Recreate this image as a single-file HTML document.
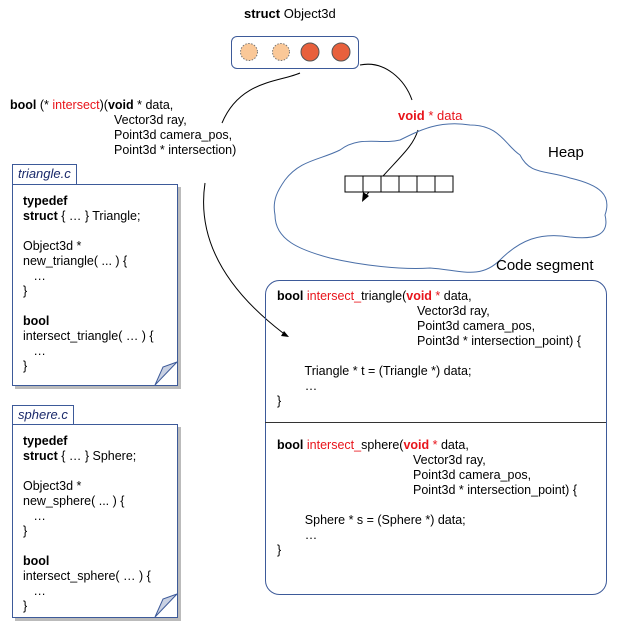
<!DOCTYPE html>
<html><head><style>
body{margin:0;width:644px;height:644px;background:#fff;position:relative;font-family:"Liberation Sans",sans-serif;font-size:12.5px;color:#000;overflow:hidden}
.a{position:absolute;white-space:pre;line-height:15px}
.r{color:#e8141b}
b{font-weight:bold}
.tab{position:absolute;border:1px solid #3d5a99;border-bottom:none;background:#fff;font-style:italic;color:#1b2a6b;font-size:13px;padding:1px 5px;height:17px}
.doc{position:absolute;border:1px solid #3d5a99;background:#fff;box-shadow:3px 3px 0 #bbb}
</style></head><body>
<div class="a" style="left:244px;top:6px;font-size:13px"><b>struct</b> Object3d</div>
<div style="position:absolute;left:231px;top:36px;width:126px;height:31px;border:1px solid #3d5a99;border-radius:6px"></div>
<svg width="644" height="644" style="position:absolute;left:0;top:0">
<circle cx="249" cy="52" r="8.5" fill="#fac898" stroke="#777" stroke-dasharray="1.5 1.5"/>
<circle cx="281" cy="52" r="8.5" fill="#fac898" stroke="#777" stroke-dasharray="1.5 1.5"/>
<circle cx="310" cy="52" r="9" fill="#e8603c" stroke="#555"/>
<circle cx="341" cy="52" r="9" fill="#e8603c" stroke="#555"/>
<path d="M300 73 C280 82 240 80 222 123" fill="none" stroke="#000"/>
<path d="M360 65 C385 60 405 80 412 100" fill="none" stroke="#000"/>
<path d="M418 130 C412 150 395 160 364 198" fill="none" stroke="#000"/>
<path d="M362 202 l1 -10 l6 4 z" fill="#000"/>
<path d="M205 183 C195 250 240 300 283 333" fill="none" stroke="#000"/>
<path d="M289 337 l-8 -1 l3 -5 z" fill="#000"/>
<path d="M285 180 C300 160 320 160 340 150 C360 135 380 145 400 140 C420 130 440 120 470 125 C500 125 505 145 520 155 C530 175 545 170 570 178 C600 185 612 195 605 215 C610 235 595 240 570 237 C540 232 520 240 500 260 C480 280 460 270 430 268 C400 270 360 265 330 258 C300 250 275 240 275 215 C272 200 278 190 285 180 Z" fill="none" stroke="#4a6fa8"/>
<g fill="#fff" stroke="#000"><rect x="345" y="176" width="18" height="16"/><rect x="363" y="176" width="18" height="16"/><rect x="381" y="176" width="18" height="16"/><rect x="399" y="176" width="18" height="16"/><rect x="417" y="176" width="18" height="16"/><rect x="435" y="176" width="18" height="16"/></g>
<rect x="265.5" y="280.5" width="341" height="314" rx="14" fill="none" stroke="#3d5a99"/>
<line x1="265" y1="422.5" x2="606" y2="422.5" stroke="#333"/>
</svg>
<div class="a" style="left:10px;top:98px"><b>bool</b> (* <span class="r">intersect</span>)(<b>void</b> * data,</div>
<div class="a" style="left:114px;top:113px">Vector3d ray,
Point3d camera_pos,
Point3d * intersection)</div>
<div class="a" style="left:398px;top:108px;font-size:13px;color:#e8141b"><b>void</b> * data</div>
<div class="a" style="left:548px;top:145px;font-size:15px">Heap</div>
<div class="a" style="left:496px;top:258px;font-size:15px">Code segment</div>

<div class="tab" style="left:12px;top:164px">triangle.c</div>
<div class="doc" style="left:12px;top:184px;width:164px;height:200px"></div>
<div class="a" style="left:23px;top:194px"><b>typedef</b>
<b>struct</b> { … } Triangle;

Object3d *
new_triangle( ... ) {
   …
}

<b>bool</b>
intersect_triangle( … ) {
   …
}</div>
<div class="tab" style="left:12px;top:405px">sphere.c</div>
<div class="doc" style="left:12px;top:424px;width:164px;height:192px"></div>
<div class="a" style="left:23px;top:434px"><b>typedef</b>
<b>struct</b> { … } Sphere;

Object3d *
new_sphere( ... ) {
   …
}

<b>bool</b>
intersect_sphere( … ) {
   …
}</div>
<svg width="644" height="644" style="position:absolute;left:0;top:0">
<path d="M155 385 L177 362 L163 367 Z" fill="#c9d1e3" stroke="#3d5a99"/>
<path d="M155 617 L177 594 L163 599 Z" fill="#c9d1e3" stroke="#3d5a99"/>
</svg>

<div class="a" style="left:277px;top:289px"><b>bool</b> <span class="r">intersect_</span>triangle(<b class="r">void</b><span class="r"> * </span>data,</div>
<div class="a" style="left:417px;top:304px">Vector3d ray,
Point3d camera_pos,
Point3d * intersection_point) {</div>
<div class="a" style="left:277px;top:349px">
        Triangle * t = (Triangle *) data;
        …
}</div>
<div class="a" style="left:277px;top:438px"><b>bool</b> <span class="r">intersect_</span>sphere(<b class="r">void</b><span class="r"> * </span>data,</div>
<div class="a" style="left:413px;top:453px">Vector3d ray,
Point3d camera_pos,
Point3d * intersection_point) {</div>
<div class="a" style="left:277px;top:498px">
        Sphere * s = (Sphere *) data;
        …
}</div>
</body></html>
